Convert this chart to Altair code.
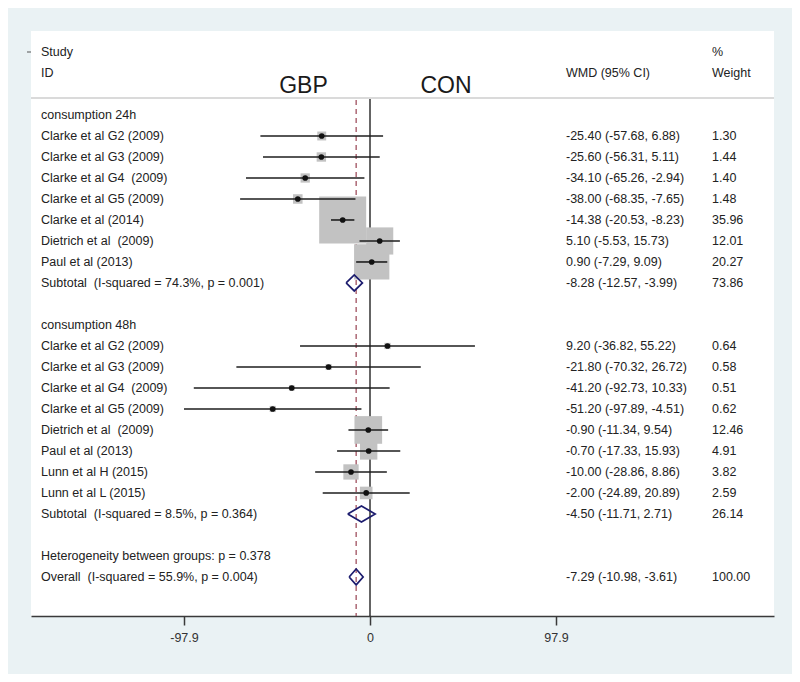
import altair as alt
import pandas as pd

# ---------------- data ----------------
NB = "\u00a0"
STUDY_24 = ["Clarke et al G2 (2009)", "Clarke et al G3 (2009)", "Clarke et al G4" + NB + " (2009)",
            "Clarke et al G5 (2009)", "Clarke et al (2014)", "Dietrich et al" + NB + " (2009)",
            "Paul et al (2013)"]
EST_24 = [-25.40, -25.60, -34.10, -38.00, -14.38, 5.10, 0.90]
LO_24 = [-57.68, -56.31, -65.26, -68.35, -20.53, -5.53, -7.29]
HI_24 = [6.88, 5.11, -2.94, -7.65, -8.23, 15.73, 9.09]
W_24 = [1.30, 1.44, 1.40, 1.48, 35.96, 12.01, 20.27]

STUDY_48 = ["Clarke et al G2 (2009)", "Clarke et al G3 (2009)", "Clarke et al G4" + NB + " (2009)",
            "Clarke et al G5 (2009)", "Dietrich et al" + NB + " (2009)", "Paul et al (2013)",
            "Lunn et al H (2015)", "Lunn et al L (2015)"]
EST_48 = [9.20, -21.80, -41.20, -51.20, -0.90, -0.70, -10.00, -2.00]
LO_48 = [-36.82, -70.32, -92.73, -97.89, -11.34, -17.33, -28.86, -24.89]
HI_48 = [55.22, 26.72, 10.33, -4.51, 9.54, 15.93, 8.86, 20.89]
W_48 = [0.64, 0.58, 0.51, 0.62, 12.46, 4.91, 3.82, 2.59]

POOLED_LABEL = ["Subtotal" + NB + " (I-squared = 74.3%, p = 0.001)",
                "Subtotal" + NB + " (I-squared = 8.5%, p = 0.364)",
                "Overall" + NB + " (I-squared = 55.9%, p = 0.004)"]
POOLED_EST = [-8.28, -4.50, -7.29]
POOLED_LO = [-12.57, -11.71, -10.98]
POOLED_HI = [-3.99, 2.71, -3.61]
POOLED_W = [73.86, 26.14, 100.00]

GROUPS = ["consumption 24h", "consumption 48h"]
HETERO = "Heterogeneity between groups: p = 0.378"
TICKS = [-97.9, 0, 97.9]

# ---------------- tables ----------------
rows_24 = list(range(1, 8))
rows_48 = list(range(11, 19))
pooled_rows = [8, 19, 22]

studies = pd.DataFrame({
    "label": STUDY_24 + STUDY_48,
    "est": EST_24 + EST_48,
    "lo": LO_24 + LO_48,
    "hi": HI_24 + HI_48,
    "w": W_24 + W_48,
    "row": rows_24 + rows_48,
})
studies["ci"] = [f"{e:.2f} ({l:.2f}, {h:.2f})" for e, l, h in zip(studies.est, studies.lo, studies.hi)]
studies["wt"] = [f"{w:.2f}" for w in studies.w]

pooled = pd.DataFrame({
    "label": POOLED_LABEL, "est": POOLED_EST, "lo": POOLED_LO, "hi": POOLED_HI,
    "w": POOLED_W, "row": pooled_rows,
})
pooled["ci"] = [f"{e:.2f} ({l:.2f}, {h:.2f})" for e, l, h in zip(pooled.est, pooled.lo, pooled.hi)]
pooled["wt"] = [f"{w:.2f}" for w in pooled.w]

others = pd.DataFrame({"label": GROUPS + [HETERO], "row": [0, 10, 21]})

HH = 0.38
dia = []
for i, r in pooled.iterrows():
    pts = [(r.lo, r.row), (r.est, r.row - HH), (r.hi, r.row), (r.est, r.row + HH), (r.lo, r.row)]
    for k, (x, y) in enumerate(pts):
        dia.append({"g": i, "o": k, "x": x, "y": y})
dia = pd.DataFrame(dia)

refs = pd.DataFrame({"x": [0.0]})
dash = pd.DataFrame({"x": [POOLED_EST[2]]})

# ---------------- scales ----------------
W, H = 743, 585
FONT = "Liberation Sans"
FS = 12.5
TXT = "#222222"

xscale = alt.Scale(domain=[-178.4, 212.6], nice=False, zero=False)
yscale = alt.Scale(domain=[-4, 23.86], reverse=True, nice=False, zero=False)
xaxis = alt.Axis(values=TICKS, title=None, grid=False, domainColor="#3a3a3a", domainWidth=1.5,
                 tickColor="#3a3a3a", tickWidth=1.5, tickSize=9, labelPadding=6,
                 labelFont=FONT, labelFontSize=12.5, labelColor="#333333",
                 labelExpr="toString(datum.value)")


def X(f):
    return alt.X(f, type="quantitative", scale=xscale, axis=xaxis)


def Y(f):
    return alt.Y(f, type="quantitative", scale=yscale, axis=None)


sep = alt.Chart(refs).mark_rule(color="#b5b5b5", strokeWidth=1.2).encode(
    x=alt.value(0), x2=alt.value(W), y=alt.value(67))

zero = alt.Chart(refs).mark_rule(color="#111111", strokeWidth=1.3).encode(
    x=X("x"), y=alt.value(68), y2=alt.value(H))

dashed = alt.Chart(dash).mark_rule(color="#a0505f", strokeWidth=1.3, strokeDash=[5, 4]).encode(
    x=X("x"), y=alt.value(69), y2=alt.value(H))

boxes = alt.Chart(studies).mark_square(color="#c2c2c2", opacity=1).encode(
    x=X("est"), y=Y("row"),
    size=alt.Size("w:Q", scale=alt.Scale(domain=[0, 100], range=[0, 6140]), legend=None))

ci = alt.Chart(studies).mark_rule(color="#1e1e1e", strokeWidth=1.6).encode(
    x=X("lo"), x2="hi", y=Y("row"))

dots = alt.Chart(studies).mark_circle(color="#111111", size=32, opacity=1).encode(
    x=X("est"), y=Y("row"))

diamonds = alt.Chart(dia).mark_line(color="#1c1c6e", strokeWidth=1.7).encode(
    x=X("x"), y=Y("y"), detail="g:N", order="o:Q")


def txt(df, field, xpx):
    return alt.Chart(df).mark_text(align="left", baseline="middle", font=FONT, fontSize=FS,
                                   color=TXT).encode(x=alt.value(xpx), y=Y("row"), text=f"{field}:N")


t_lab = txt(studies, "label", 10)
t_ci = txt(studies, "ci", 535)
t_wt = txt(studies, "wt", 681)
p_lab = txt(pooled, "label", 10)
p_ci = txt(pooled, "ci", 535)
p_wt = txt(pooled, "wt", 681)
o_lab = txt(others, "label", 10)

head = pd.DataFrame({
    "t": ["Study", "ID", "WMD (95% CI)", "%", "Weight"],
    "row": [-3, -2, -2, -3, -2],
    "px": [10, 10, 535, 681, 681],
})
heads = alt.Chart(head).mark_text(align="left", baseline="middle", font=FONT, fontSize=FS,
                                  color=TXT).encode(x=alt.X("px:Q", scale=None), y=Y("row"), text="t:N")

big = pd.DataFrame({"t": ["GBP", "CON"], "px": [272.5, 415]})
bigs = alt.Chart(big).mark_text(align="center", baseline="alphabetic", font=FONT, fontSize=23,
                                color="#1a1a1a").encode(x=alt.X("px:Q", scale=None), y=alt.value(62), text="t:N")

ltick = alt.Chart(refs).mark_rule(color="#555555", strokeWidth=1).encode(
    x=alt.value(-4), x2=alt.value(0), y=alt.value(21))

chart = alt.layer(
    sep, dashed, zero, boxes, ci, dots, diamonds,
    t_lab, t_ci, t_wt, p_lab, p_ci, p_wt, o_lab, heads, bigs, ltick,
).properties(
    width=W, height=H,
    padding={"left": 23, "top": 23, "right": 18, "bottom": 58},
    autosize=alt.AutoSizeParams(type="none"),
    background="#eaf2f4",
).configure_view(fill="white", stroke=None)

chart.save("out.html", embed_options={"renderer": "svg", "actions": False})
